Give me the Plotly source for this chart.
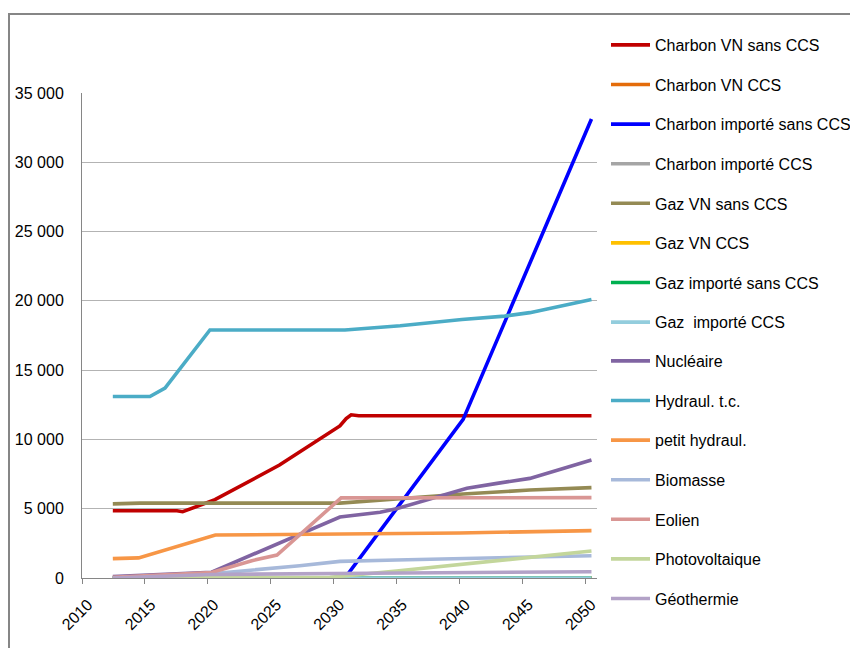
import plotly.graph_objects as go

# ---- data (x in axis-year units, values in MW) ----
START, END = 2012.45, 2050.5

charbon_vn_sans_x = [START, 2017.55, 2018.0, 2020.57, 2025.7, 2030.5, 2031.0, 2031.4, 2032.0, END]
charbon_vn_sans_y = [4850, 4850, 4780, 5650, 8150, 10970, 11500, 11780, 11710, 11710]

zero_x = [START, END]
zero_y = [0, 0]

charbon_imp_sans_x = [START, 2030.9, 2040.3, END]
charbon_imp_sans_y = [0, 0, 11450, 33120]

gaz_vn_sans_x = [START, 2014.6, 2030.5, 2033.7, 2040.3, 2045.6, END]
gaz_vn_sans_y = [5350, 5400, 5400, 5630, 6060, 6350, 6520]

nucleaire_x = [START, 2020.3, 2030.5, 2033.7, 2035.0, 2040.6, 2043.0, 2045.6, END]
nucleaire_y = [100, 420, 4400, 4750, 5000, 6470, 6830, 7190, 8510]

hydraul_x = [START, 2015.4, 2016.6, 2020.17, 2030.9, 2035.3, 2040.2, 2043.6, 2045.6, 2048.0, END]
hydraul_y = [13100, 13100, 13700, 17900, 17900, 18200, 18650, 18900, 19150, 19600, 20100]

petit_hydraul_x = [START, 2014.5, 2020.6, 2025.0, 2030.0, 2035.0, 2040.0, 2045.0, END]
petit_hydraul_y = [1400, 1450, 3100, 3120, 3170, 3200, 3250, 3330, 3420]

biomasse_x = [START, 2020.3, 2027.3, 2030.5, 2035.0, 2040.3, END]
biomasse_y = [0, 300, 890, 1200, 1300, 1420, 1610]

eolien_x = [START, 2020.3, 2023.5, 2025.5, 2030.6, END]
eolien_y = [50, 400, 1250, 1660, 5780, 5800]

pv_x = [START, 2029.7, 2035.0, 2040.0, 2045.1, END]
pv_y = [0, 50, 500, 950, 1420, 1950]

geo_x = [START, 2020.3, 2030.0, 2040.0, END]
geo_y = [0, 250, 330, 400, 450]

SERIES = [
    ("Charbon VN sans CCS", charbon_vn_sans_x, charbon_vn_sans_y, "#C00000"),
    ("Charbon VN CCS", zero_x, zero_y, "#E46C0A"),
    ("Charbon importé sans CCS", charbon_imp_sans_x, charbon_imp_sans_y, "#0000FF"),
    ("Charbon importé CCS", zero_x, zero_y, "#A5A5A5"),
    ("Gaz VN sans CCS", gaz_vn_sans_x, gaz_vn_sans_y, "#948A54"),
    ("Gaz VN CCS", zero_x, zero_y, "#FFC000"),
    ("Gaz importé sans CCS", zero_x, zero_y, "#00B050"),
    ("Gaz  importé CCS", zero_x, zero_y, "#93CDDD"),
    ("Nucléaire", nucleaire_x, nucleaire_y, "#8064A2"),
    ("Hydraul. t.c.", hydraul_x, hydraul_y, "#4BACC6"),
    ("petit hydraul.", petit_hydraul_x, petit_hydraul_y, "#F79646"),
    ("Biomasse", biomasse_x, biomasse_y, "#A7B9DA"),
    ("Eolien", eolien_x, eolien_y, "#D99694"),
    ("Photovoltaique", pv_x, pv_y, "#C3D69B"),
    ("Géothermie", geo_x, geo_y, "#B3A2C7"),
]

X_TICKS = [2010, 2015, 2020, 2025, 2030, 2035, 2040, 2045, 2050]
Y_TICKS = [0, 5000, 10000, 15000, 20000, 25000, 30000, 35000]

FONT = "Liberation Sans, Arial, sans-serif"

# page has an 8px body margin, so the figure is drawn 8px in from the corner
W, H = 850, 640

fig = go.Figure()
for i, (name, xs, ys, color) in enumerate(SERIES):
    fig.add_trace(go.Scatter(
        x=xs, y=ys, name=name, mode="lines", legendgroup=name,
        legend="legend" if i < 8 else "legend2",
        line=dict(color=color, width=3.6),
        hoverinfo="name+x+y",
    ))

legend_common = dict(
    xref="container", yref="container", xanchor="left", yanchor="top",
    font=dict(family=FONT, size=16, color="#000000"),
    tracegroupgap=15.8, bgcolor="rgba(0,0,0,0)", borderwidth=0,
    itemwidth=39,
)

fig.update_layout(
    width=W, height=H,
    margin=dict(l=74, r=261, t=85, b=70),
    paper_bgcolor="white", plot_bgcolor="white",
    font=dict(family=FONT, size=16, color="#000000"),
    separators=", ",
    showlegend=True,
    legend=dict(x=598 / W, y=1 - 20 / H, **legend_common),
    legend2=dict(x=598 / W, y=1 - 336 / H, **legend_common),
    xaxis=dict(
        range=[2010, 2050.94], tickvals=X_TICKS, ticktext=[str(v) for v in X_TICKS],
        tickangle=-45, showgrid=False, zeroline=False, automargin=False,
        showline=True, linecolor="#868686", linewidth=1,
        ticks="outside", ticklen=5, tickcolor="#868686",
        ticklabelshift=6, ticklabelstandoff=5,
        tickfont=dict(family=FONT, size=16, color="#000000"),
    ),
    yaxis=dict(
        range=[0, 35000], tickvals=Y_TICKS, tickformat=",d", automargin=False,
        showgrid=True, gridcolor="#B3B3B3", gridwidth=1, zeroline=False,
        showline=True, linecolor="#868686", linewidth=1,
        ticks="", ticklabelstandoff=14,
        tickfont=dict(family=FONT, size=16, color="#000000"),
    ),
    shapes=[dict(
        type="rect", xref="paper", yref="paper",
        x0=-73 / 515, x1=1.6, y0=-0.3, y1=(570 - 6) / 485,
        line=dict(color="#868686", width=2), fillcolor="rgba(0,0,0,0)",
        layer="below",
    )],
)

fig.write_html("out.html")
